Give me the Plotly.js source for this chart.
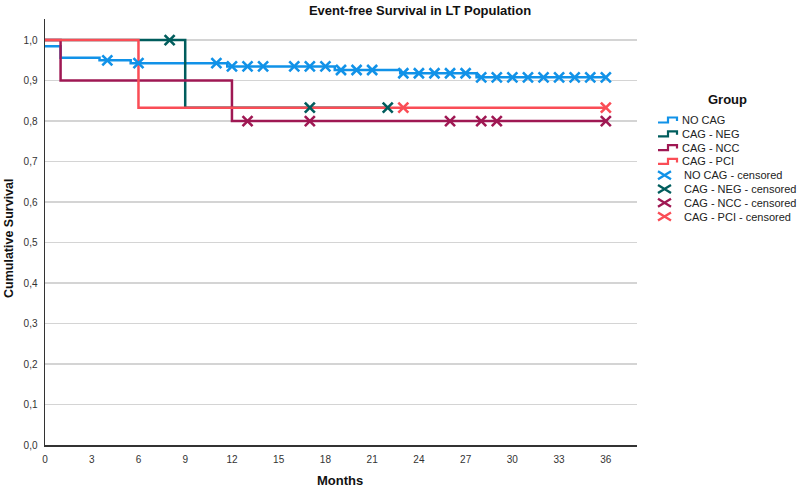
<!DOCTYPE html>
<html>
<head>
<meta charset="utf-8">
<script src="https://cdn.plot.ly/plotly-3.0.1.min.js"></script>
<style>html,body{margin:0;padding:0;background:#fff}#chart{width:800px;height:489px}</style>
</head>
<body>
<div id="chart"></div>
<script>
// ---- data ----
const groups = ["NO CAG", "CAG - NEG", "CAG - NCC", "CAG - PCI"];
const colors = ["#1192e8", "#005d5d", "#9f1853", "#fa4d56"];

const noCagTime = [0, 1, 3.5, 5.5, 11.7, 18.6, 22.8, 27.7, 36];
const noCagSurv = [0.985, 0.956, 0.950, 0.943, 0.935, 0.926, 0.918, 0.908, 0.908];
const noCagCensored = [4, 6, 11, 12, 13, 14, 16, 17, 18, 19, 20, 21, 23, 24, 25, 26, 27, 28, 29, 30, 31, 32, 33, 34, 35, 36];

const negTime = [0, 9, 22];
const negSurv = [1.0, 0.833, 0.833];
const negCensored = [8, 17, 22];

const nccTime = [0, 1, 12, 36];
const nccSurv = [1.0, 0.9, 0.8, 0.8];
const nccCensored = [13, 17, 26, 28, 29, 36];

const pciTime = [0, 6, 36];
const pciSurv = [1.0, 0.833, 0.833];
const pciCensored = [23, 36];

const xTicks = [0, 3, 6, 9, 12, 15, 18, 21, 24, 27, 30, 33, 36];
const yTicks = [0, 0.1, 0.2, 0.3, 0.4, 0.5, 0.6, 0.7, 0.8, 0.9, 1.0];
const yTickText = ["0,0", "0,1", "0,2", "0,3", "0,4", "0,5", "0,6", "0,7", "0,8", "0,9", "1,0"];

// ---- helpers ----
function stepAt(times, surv, t) {
  let v = surv[0];
  for (let i = 0; i < times.length; i++) { if (times[i] <= t) v = surv[i]; }
  return v;
}
const series = [
  [noCagTime, noCagSurv, noCagCensored],
  [negTime, negSurv, negCensored],
  [nccTime, nccSurv, nccCensored],
  [pciTime, pciSurv, pciCensored]
];

const traces = [];
series.forEach((s, i) => {
  traces.push({
    x: s[0], y: s[1], type: "scatter", mode: "lines",
    line: {shape: "hv", color: colors[i], width: 2.5},
    name: groups[i], hoverinfo: "skip"
  });
});
series.forEach((s, i) => {
  traces.push({
    x: s[2], y: s[2].map(t => stepAt(s[0], s[1], t)), type: "scatter", mode: "markers",
    marker: {symbol: "x-thin", size: 10, color: colors[i], line: {color: colors[i], width: 2.6}},
    name: groups[i] + " - censored", hoverinfo: "skip"
  });
});

// ---- custom legend (pixel -> paper) ----
const L = 45, R = 637, T = 19, B = 445;
const px = x => (x - L) / (R - L);
const py = y => (B - y) / (B - T);
const shapes = [];
const annotations = [];
const FONT = "Liberation Sans, Arial, sans-serif";
const legendY = [120, 133.8, 147.6, 161.4, 175.2, 189, 202.8, 216.6];
annotations.push({xref: "paper", yref: "paper", x: px(727), y: py(100), text: "Group", showarrow: false,
  xanchor: "center", yanchor: "middle", font: {family: FONT, size: 13, weight: "bold", color: "#111"}});
groups.forEach((g, i) => {
  const y = legendY[i];
  shapes.push({type: "path", xref: "paper", yref: "paper",
    path: `M ${px(658)} ${py(y + 2.5)} L ${px(668)} ${py(y + 2.5)} L ${px(668)} ${py(y - 2.5)} L ${px(677)} ${py(y - 2.5)} L ${px(677)} ${py(y + 1)}`,
    line: {color: colors[i], width: 2.2}});
  annotations.push({xref: "paper", yref: "paper", x: px(680), y: py(y), text: g, showarrow: false,
    xanchor: "left", yanchor: "middle", font: {family: FONT, size: 11, color: "#222"}});
});
groups.forEach((g, i) => {
  const y = legendY[i + 4];
  shapes.push({type: "path", xref: "paper", yref: "paper",
    path: `M ${px(658)} ${py(y - 4)} L ${px(671)} ${py(y + 4)} M ${px(658)} ${py(y + 4)} L ${px(671)} ${py(y - 4)}`,
    line: {color: colors[i], width: 2.4}});
  annotations.push({xref: "paper", yref: "paper", x: px(682), y: py(y), text: g + " - censored", showarrow: false,
    xanchor: "left", yanchor: "middle", font: {family: FONT, size: 11, color: "#222"}});
});
// y-axis title
annotations.push({xref: "paper", yref: "paper", x: px(9), y: py(238), text: "Cumulative Survival", showarrow: false,
  textangle: -90, xanchor: "center", yanchor: "middle", font: {family: FONT, size: 12.5, weight: "bold", color: "#111"}});
// x-axis title
annotations.push({xref: "paper", yref: "paper", x: px(340), y: py(480), text: "Months", showarrow: false,
  xanchor: "center", yanchor: "middle", font: {family: FONT, size: 13, weight: "bold", color: "#111"}});

const layout = {
  width: 800, height: 489,
  margin: {l: L, r: 800 - R, t: T, b: 489 - B, pad: 0},
  paper_bgcolor: "#fff", plot_bgcolor: "#fff",
  showlegend: false, hovermode: false,
  title: {text: "Event-free Survival in LT Population", xref: "paper", x: px(420), xanchor: "center",
    yref: "container", y: 1 - 10.5 / 489, yanchor: "middle",
    font: {family: FONT, size: 13, weight: "bold", color: "#111"}},
  font: {family: FONT, size: 10, color: "#333"},
  xaxis: {range: [0, 38], tickvals: xTicks, ticktext: xTicks.map(String), showgrid: false, zeroline: false,
    showline: true, linecolor: "#333", linewidth: 1.5, ticks: "", ticklabelstandoff: 4,
    tickfont: {family: FONT, size: 10, color: "#333"}},
  yaxis: {range: [0, 1.052], tickvals: yTicks, ticktext: yTickText, showgrid: true, gridcolor: "#d4d4d4", gridwidth: 1.3,
    zeroline: false, showline: true, linecolor: "#333", linewidth: 1.5, ticks: "", ticklabelstandoff: 4,
    tickfont: {family: FONT, size: 10, color: "#333"}},
  shapes: shapes, annotations: annotations
};

Plotly.newPlot("chart", traces, layout, {displayModeBar: false, staticPlot: true});
</script>
</body>
</html>
